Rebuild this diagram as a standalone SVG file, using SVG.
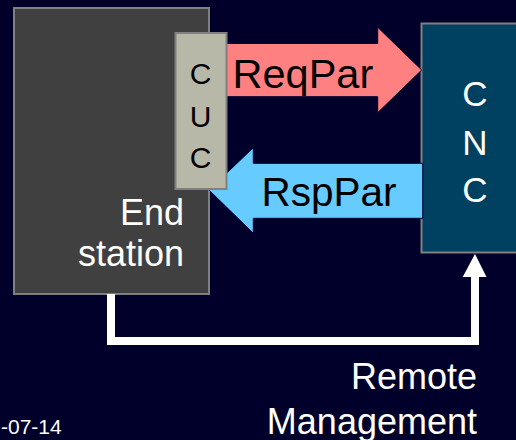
<svg xmlns="http://www.w3.org/2000/svg" width="516" height="440" viewBox="0 0 516 440">
<style>
.box{stroke:#808080;stroke-width:2}
.t{font-family:"Liberation Sans",Arial,sans-serif}
.w{fill:#ffffff}
.k{fill:#000000}
.arrow{stroke:#000033;stroke-width:1}
.wire{fill:none;stroke:#ffffff;stroke-width:8}
</style>
<rect x="0" y="0" width="516" height="440" fill="#00002a"/>
<g id="end-station">
<rect class="box" x="14" y="8" width="195" height="286" fill="#404040"/>
<text class="t w" x="184" y="225" font-size="36" text-anchor="end">End</text>
<text class="t w" x="184" y="266" font-size="36" text-anchor="end">station</text>
</g>
<g id="cnc">
<rect class="box" x="421.5" y="23.5" width="110" height="229" fill="#004060"/>
<text class="t w" x="475" y="106" font-size="35" text-anchor="middle">C</text>
<text class="t w" x="475" y="155" font-size="35" text-anchor="middle">N</text>
<text class="t w" x="475" y="202" font-size="35" text-anchor="middle">C</text>
</g>
<g id="connectors">
<g id="reqpar">
<polygon class="arrow" points="226,43.5 377.7,43.5 377.7,27.3 421.7,70 377.7,112.7 377.7,96.7 226,96.7" fill="#ff8080"/>
<text class="t k" x="232.5" y="88.3" font-size="41.5">ReqPar</text>
</g>
<g id="rsppar">
<polygon class="arrow" points="209,190 253.3,147.7 253.3,163.3 422.7,163.3 422.7,218.3 253.3,218.3 253.3,233.3" fill="#66ccff"/>
<text class="t k" x="261.5" y="205.7" font-size="40.5">RspPar</text>
</g>
<g id="remote-management">
<polyline class="wire" points="111,294 111,341 475,341 475,276"/>
<polygon points="462.7,277 475,254 486.5,277" fill="#ffffff"/>
<text class="t w" x="477" y="388.5" font-size="36" text-anchor="end">Remote</text>
<text class="t w" x="477" y="433.5" font-size="36" text-anchor="end">Management</text>
</g>
</g>
<g id="cuc">
<rect class="box" x="175.5" y="33" width="51" height="156" fill="#b8b8a8"/>
<text class="t k" x="200.5" y="84" font-size="30" text-anchor="middle">C</text>
<text class="t k" x="200.5" y="126.5" font-size="30" text-anchor="middle">U</text>
<text class="t k" x="200.5" y="167.5" font-size="30" text-anchor="middle">C</text>
</g>
<text class="t w" x="1" y="434" font-size="21">-07-14</text>
</svg>
